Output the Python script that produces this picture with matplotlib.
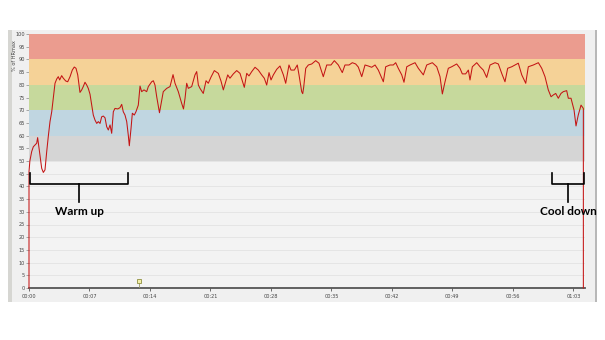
import matplotlib
matplotlib.use('Agg')
import matplotlib.pyplot as plt
from matplotlib.patches import Rectangle

# Heart rate as % of HRmax over time (minutes)
minutes = [0.0, 0.0, 0.1, 0.31, 0.5, 0.69, 0.89, 1.0, 1.16, 1.27, 1.47, 1.66, 1.85, 2.05, 2.23,
           2.43, 2.63, 2.81, 3.01, 3.21, 3.39, 3.55, 3.78, 3.97, 4.25, 4.48, 4.75, 5.01, 5.24,
           5.44, 5.64, 5.79, 5.9, 6.1, 6.28, 6.48, 6.68, 6.86, 7.06, 7.26, 7.44, 7.64, 7.84,
           8.02, 8.22, 8.41, 8.6, 8.8, 8.99, 9.18, 9.38, 9.57, 9.76, 9.95, 10.27, 10.53, 10.73,
           10.91, 11.11, 11.31, 11.49, 11.61, 11.81, 11.96, 12.19, 12.38, 12.65, 12.85, 13.04,
           13.31, 13.62, 13.81, 14.2, 14.39, 14.58, 14.78, 15.1, 15.36, 15.54, 15.94, 16.32,
           16.67, 16.9, 17.28, 17.67, 17.88, 18.06, 18.25, 18.44, 18.83, 19.21, 19.41, 19.6,
           19.79, 20.17, 20.49, 20.75, 21.06, 21.45, 21.91, 22.22, 22.49, 23.0, 23.26, 23.65,
           24.04, 24.42, 24.65, 24.92, 25.2, 25.46, 25.78, 26.16, 26.54, 26.93, 27.23, 27.51,
           27.78, 28.01, 28.28, 28.67, 29.05, 29.44, 29.71, 30.09, 30.32, 30.71, 31.05, 31.25,
           31.56, 31.68, 31.79, 32.03, 32.33, 32.72, 33.18, 33.56, 33.8, 34.06, 34.46, 34.95,
           35.34, 35.8, 36.26, 36.57, 37.04, 37.42, 37.81, 38.11, 38.51, 38.89, 39.27, 39.66,
           40.05, 40.43, 41.01, 41.28, 41.78, 42.16, 42.44, 42.74, 43.14, 43.4, 43.72, 44.1,
           44.68, 45.06, 45.64, 46.03, 46.68, 47.19, 47.57, 47.84, 48.15, 48.53, 48.92, 49.5,
           49.88, 50.15, 50.54, 50.85, 51.04, 51.31, 51.82, 52.2, 52.58, 52.97, 53.36, 53.94,
           54.32, 54.71, 55.09, 55.4, 55.87, 56.25, 56.63, 57.03, 57.49, 57.79, 58.37, 58.95,
           59.34, 59.72, 60.1, 60.42, 60.68, 60.96, 61.26, 61.57, 61.84, 62.23, 62.42, 62.73,
           62.88, 63.08, 63.31, 63.57, 63.89, 64.16, 64.16]
hr_pct = [0, 45.8, 50, 53.7, 55.6, 56.3, 57, 59.2, 55, 52.4, 47.1, 45.5, 46.5, 53.7, 59.6,
          65.5, 69.4, 74.7, 80.6, 82.3, 83.2, 81.9, 83.6, 82.6, 81.5, 81.2, 83.2, 85.8, 87,
          86.5, 83.9, 79.9, 77, 78, 79.3, 81, 79.9, 78.6, 76.3, 72, 68.1, 66.1, 64.8,
          65.5, 64.8, 67.4, 67.7, 67, 63.5, 62.2, 64.2, 60.9, 69.4, 70.7, 70.5, 71, 72.3,
          69.4, 68.1, 65.5, 60.2, 56, 62.9, 68.8, 68.1, 69.4, 72, 79.5, 77.3,
          78, 77.3, 79.3, 81.2, 81.6, 79.9, 75.3, 69, 74, 77.3, 78.6, 79.3,
          84, 80.6, 77.3, 72.7, 70.5, 74.7, 80.6, 78.6, 79.3, 83.9, 85.2, 79.9,
          78.6, 76.6, 81.6, 80.6, 83, 85.6, 84.5, 81.5, 78, 83.9, 82.6, 84.3,
          85.6, 84.5, 82, 79, 84.5, 83.5, 85.2, 86.9, 85.8, 83.9, 82.6, 79.9,
          84.8, 81.9, 83.9, 86.1, 87.4, 83.9, 80.6, 87.8, 85.8, 85.8, 87.8, 83.9,
          77.3, 76.5, 79, 86.5, 87.8, 88.2, 89.5, 88.5, 86, 83.2, 87.8, 87.8,
          89.5, 87.8, 84.8, 87.8, 87.8, 88.7, 88.2, 87, 83.2, 87.8, 87.4, 86.9,
          87.8, 85.8, 81.2, 87.1, 87.8, 87.8, 88.7, 86.5, 83.9, 81, 87.1, 87.8,
          88.7, 86.5, 83.9, 87.8, 88.7, 87.1, 83.2, 76.4, 81.2, 86.5, 87.1, 88.2,
          86.5, 84.3, 84.3, 85.8, 81.9, 87.1, 88.7, 87.1, 85.8, 82.9, 87.8, 88.7,
          88.2, 84.5, 81.2, 86.5, 87.1, 87.8, 88.5, 83.9, 80.6, 87.1, 87.8, 88.7,
          86.5, 83.2, 78, 75.3, 76, 76.6, 74.7, 76.6, 77.3, 77.7, 74.7, 74.7,
          72.7, 70.1, 63.8, 68.1, 72, 70.7, 0]

# HR zones (% of HRmax)
zone_bounds = [(50, 60), (60, 70), (70, 80), (80, 90), (90, 100)]
zone_colors = ['#d5d5d5', '#c0d6e1', '#c6d99c', '#f5d297', '#eb9c8f']

tick_minutes = [0, 7, 14, 21, 28, 35, 42, 49, 56, 63]
tick_labels = ['00:00', '00:07', '00:14', '00:21', '00:28', '00:35', '00:42', '00:49', '00:56', '01:03']

lap_minute = 12.73

fig = plt.figure(figsize=(6.05, 3.4), dpi=100)
fig.patch.set_facecolor('white')

# chart widget frame (behind the axes)
frame = [((8, 302), 588, '#f0f0f0'), ((8, 302), 4, '#d6d6d2'), ((595, 302), 1.5, '#b8b8b8')]
for (px, py), w, c in frame:
    fig.patches.append(Rectangle((px / 605, 1 - py / 340), w / 605, 272 / 340,
                                 transform=fig.transFigure, facecolor=c,
                                 edgecolor='none', zorder=-5))

ax = fig.add_axes([29 / 605, 1 - 288 / 340, 556 / 605, 254 / 340])
ax.set_facecolor('#f3f3f3')
ax.set_xlim(0, 64.35)
ax.set_ylim(0, 100)

for (lo, hi), c in zip(zone_bounds, zone_colors):
    ax.axhspan(lo, hi, color=c, lw=0, zorder=1)

ax.set_yticks(range(0, 101, 5))
ax.set_axisbelow(True)
ax.grid(axis='y', color='#e3e3e3', lw=0.6)
ax.tick_params(axis='y', labelsize=3.6, length=2, width=0.5, color='#888888',
               labelcolor='#444444', pad=1)
ax.set_xticks(tick_minutes)
ax.set_xticklabels(tick_labels)
ax.tick_params(axis='x', labelsize=3.6, length=2.5, width=0.6, color='#555555',
               labelcolor='#444444', pad=2)

for s in ['top', 'right', 'left']:
    ax.spines[s].set_visible(False)
ax.spines['bottom'].set_color('#555555')
ax.spines['bottom'].set_linewidth(1.3)

ax.plot(minutes, hr_pct, color='#c41414', lw=0.75, zorder=3, clip_on=False)

# lap marker
ax.plot([lap_minute, lap_minute], [0, 2.2], color='#999966', lw=0.6, zorder=3)
ax.plot([lap_minute], [2.6], marker='s', ms=3.2, mfc='#f4f0a8', mec='#8f8f40',
        mew=0.6, zorder=4)

fig.text(15 / 605, 1 - 56 / 340, '% of HRmax', rotation=90, fontsize=3.6,
         color='#444444', ha='center', va='center')

# annotation brackets
def bracket(x0, x1, xm, label):
    ax.plot([x0, x0, x1, x1], [45.3, 41, 41, 45.3], color='black', lw=1.2,
            solid_joinstyle='round', zorder=5, clip_on=False)
    ax.plot([xm, xm], [41, 34], color='black', lw=1.2, zorder=5, clip_on=False)
    ax.text(xm, 30, label, ha='center', va='center', fontsize=8.5,
            fontweight='bold', family=['Lato', 'DejaVu Sans'], zorder=5, clip_on=False)

bracket(0.12, 11.46, 5.8, 'Warm up')
bracket(60.5, 64.2, 62.4, 'Cool down')

plt.savefig('out.png', dpi=100)
